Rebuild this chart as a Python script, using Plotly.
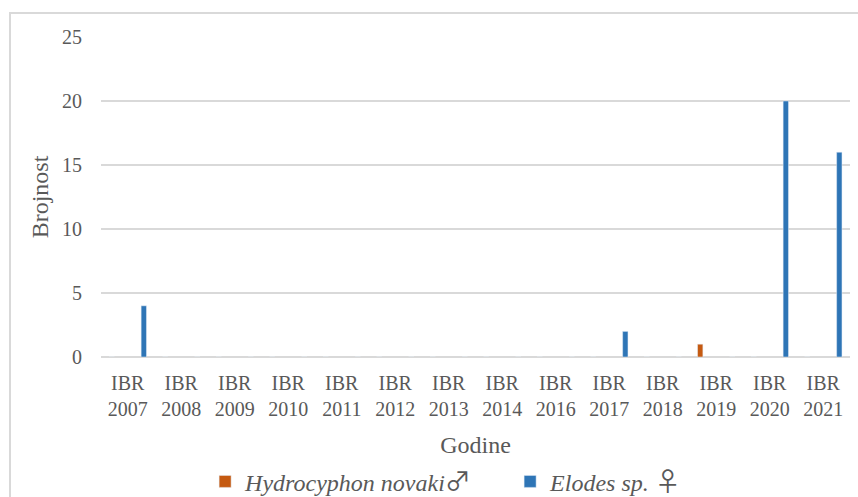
import plotly.graph_objects as go

categories = ["IBR<br>2007", "IBR<br>2008", "IBR<br>2009", "IBR<br>2010", "IBR<br>2011",
              "IBR<br>2012", "IBR<br>2013", "IBR<br>2014", "IBR<br>2016", "IBR<br>2017",
              "IBR<br>2018", "IBR<br>2019", "IBR<br>2020", "IBR<br>2021"]
hydrocyphon = [0, 0, 0, 0, 0, 0, 0, 0, 0, 0, 0, 1, 0, 0]
elodes = [4, 0, 0, 0, 0, 0, 0, 0, 0, 2, 0, 0, 20, 16]
y_ticks = [0, 5, 10, 15, 20, 25]

FONT = "Liberation Serif, Times New Roman, serif"
GRAY = "#595959"
SYM = '<span style="font-family:Noto Sans CJK SC, DejaVu Sans;font-size:26px">{}</span>'

fig = go.Figure()
fig.add_trace(go.Bar(x=categories, y=hydrocyphon,
                     name="<i>Hydrocyphon novaki</i>" + SYM.format("♂"),
                     marker_color="#C55A11", width=0.1, offset=-0.35))
fig.add_trace(go.Bar(x=categories, y=elodes,
                     name="<i>Elodes sp.</i> " + SYM.format("♀"),
                     marker_color="#2E75B6", width=0.1, offset=0.25))

fig.update_layout(
    width=858, height=497,
    margin=dict(l=101, r=8, t=37, b=140, autoexpand=False),
    paper_bgcolor="white", plot_bgcolor="white",
    barmode="overlay",
    font=dict(family=FONT, color=GRAY, size=20),
    showlegend=True,
    legend=dict(orientation="h", x=0.139, xanchor="left", y=-0.39, yanchor="middle",
                font=dict(size=24, color=GRAY), entrywidth=260, entrywidthmode="pixels",
                bgcolor="rgba(0,0,0,0)"),
    shapes=[dict(type="rect", xref="paper", yref="paper",
                 x0=(10 - 101) / 749, x1=1.03, y0=-0.6, y1=(357 - 13) / 320,
                 line=dict(color="#d9d9d9", width=2), layer="below")],
)
fig.update_xaxes(showgrid=False, showline=False, ticks="", tickfont=dict(size=20),
                 automargin=False, ticklabelstandoff=12,
                 title=dict(text="Godine", font=dict(size=24), standoff=17))
fig.update_yaxes(range=[0, 25], tickvals=y_ticks, showgrid=True, gridcolor="#d9d9d9",
                 gridwidth=1.5, zeroline=True, zerolinecolor="#d9d9d9", zerolinewidth=2,
                 showline=False, ticks="", ticklabelstandoff=18, tickfont=dict(size=20),
                 automargin=False,
                 title=dict(text="Brojnost", font=dict(size=24), standoff=6))

fig.write_html("out.html", config={"displayModeBar": False},
               post_script="document.body.style.margin='0px';")
